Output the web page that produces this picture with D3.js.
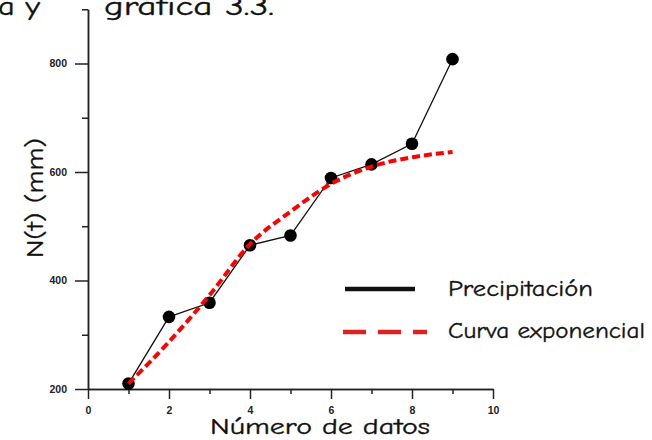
<!DOCTYPE html>
<html>
<head>
<meta charset="utf-8">
<script src="https://cdn.jsdelivr.net/npm/d3@7"></script>
<style>
    body { margin: 0; background: #fff; }
    .comic { font-family: "Comic Sans MS", "Comic Neue", "DejaVu Sans", sans-serif; fill: #111; font-weight: normal; stroke: #111; stroke-width: 0.35; }
    .axis text { font-family: "Liberation Sans", Arial, sans-serif; font-weight: bold; font-size: 10.5px; fill: #222; }
    .axis line, .axis path { stroke: #222; stroke-width: 1.5; }
</style>
</head>
<body>
<svg id="chart" width="652" height="440"></svg>
<script>
// data
const datos = [1, 2, 3, 4, 5, 6, 7, 8, 9];
const precipitacion = [210, 333, 359, 465, 483, 589, 614, 652, 808];
const curvaExponencial = [210, 287, 373, 467, 527, 578, 610, 627, 637];
const xTicksMayor = [0, 2, 4, 6, 8, 10];
const xTicksMenor = [1, 3, 5, 7, 9];
const yTicksMayor = [200, 400, 600, 800];
const yTicksMenor = [300, 500, 700, 900];

const width = 652;
const height = 440;

const svg = d3.select("#chart")
    .attr("width", width)
    .attr("height", height);

const xScale = d3.scaleLinear()
    .domain([0, 10])
    .range([88, 493]);

const yScale = d3.scaleLinear()
    .domain([200, 900])
    .range([389, 9.25]);

// texto comic estirado al ancho del original
function comic(sel, x, y, ancho, size, texto) {
    return sel.append("text")
        .attr("class", "comic")
        .attr("x", x)
        .attr("y", y)
        .attr("textLength", ancho)
        .attr("lengthAdjust", "spacingAndGlyphs")
        .style("font-size", size + "px")
        .text(texto);
}

// text cut at the top of the page
comic(svg, -2, 15, 42, 26, "a y");
comic(svg, 104, 15, 170, 26, "gráfica 3.3.");

// axes
svg.append("g")
    .attr("class", "axis")
    .attr("transform", "translate(0," + yScale(200) + ")")
    .call(d3.axisBottom(xScale).tickValues(xTicksMenor).tickSize(5).tickSizeOuter(0).tickFormat(""));

svg.append("g")
    .attr("class", "axis")
    .attr("transform", "translate(0," + yScale(200) + ")")
    .call(d3.axisBottom(xScale).tickValues(xTicksMayor).tickSize(10).tickPadding(8).tickSizeOuter(0).tickFormat(d3.format("d")));

svg.append("g")
    .attr("class", "axis")
    .attr("transform", "translate(" + xScale(0) + ",0)")
    .call(d3.axisLeft(yScale).tickValues(yTicksMenor).tickSize(6).tickSizeOuter(0).tickFormat(""));

svg.append("g")
    .attr("class", "axis")
    .attr("transform", "translate(" + xScale(0) + ",0)")
    .call(d3.axisLeft(yScale).tickValues(yTicksMayor).tickSize(13).tickPadding(8).tickSizeOuter(0).tickFormat(d3.format("d")));

// axis titles
comic(svg, 210, 434, 220, 22, "Número de datos");

comic(svg, 0, 0, 120, 25, "N(t) (mm)")
    .attr("transform", "translate(43,258) rotate(-90)");

// precipitation line + points
const linea = d3.line()
    .x((d, i) => xScale(datos[i]))
    .y(d => yScale(d));

svg.append("path")
    .datum(precipitacion)
    .attr("fill", "none")
    .attr("stroke", "#111")
    .attr("stroke-width", 1.3)
    .attr("d", linea);

svg.selectAll(".punto")
    .data(precipitacion)
    .enter()
    .append("circle")
    .attr("class", "punto")
    .attr("cx", (d, i) => xScale(datos[i]))
    .attr("cy", d => yScale(d))
    .attr("r", 6.3)
    .attr("fill", "#000");

// exponential curve on top
const curva = d3.line()
    .x((d, i) => xScale(datos[i]))
    .y(d => yScale(d))
    .curve(d3.curveMonotoneX);

svg.append("path")
    .datum(curvaExponencial)
    .attr("fill", "none")
    .attr("stroke", "#ff0000")
    .attr("stroke-width", 4)
    .attr("stroke-dasharray", "8,4")
    .attr("d", curva);

// legend
const leyenda = svg.append("g");

leyenda.append("line")
    .attr("x1", 345).attr("x2", 415)
    .attr("y1", 289).attr("y2", 289)
    .attr("stroke", "#111")
    .attr("stroke-width", 4.5);

leyenda.append("line")
    .attr("x1", 343).attr("x2", 427)
    .attr("y1", 332).attr("y2", 332)
    .attr("stroke", "#dd2222")
    .attr("stroke-width", 4.5)
    .attr("stroke-dasharray", "23,12");

comic(leyenda, 448, 296, 145, 23, "Precipitación");
comic(leyenda, 448, 338, 197, 23, "Curva exponencial");
</script>
</body>
</html>
